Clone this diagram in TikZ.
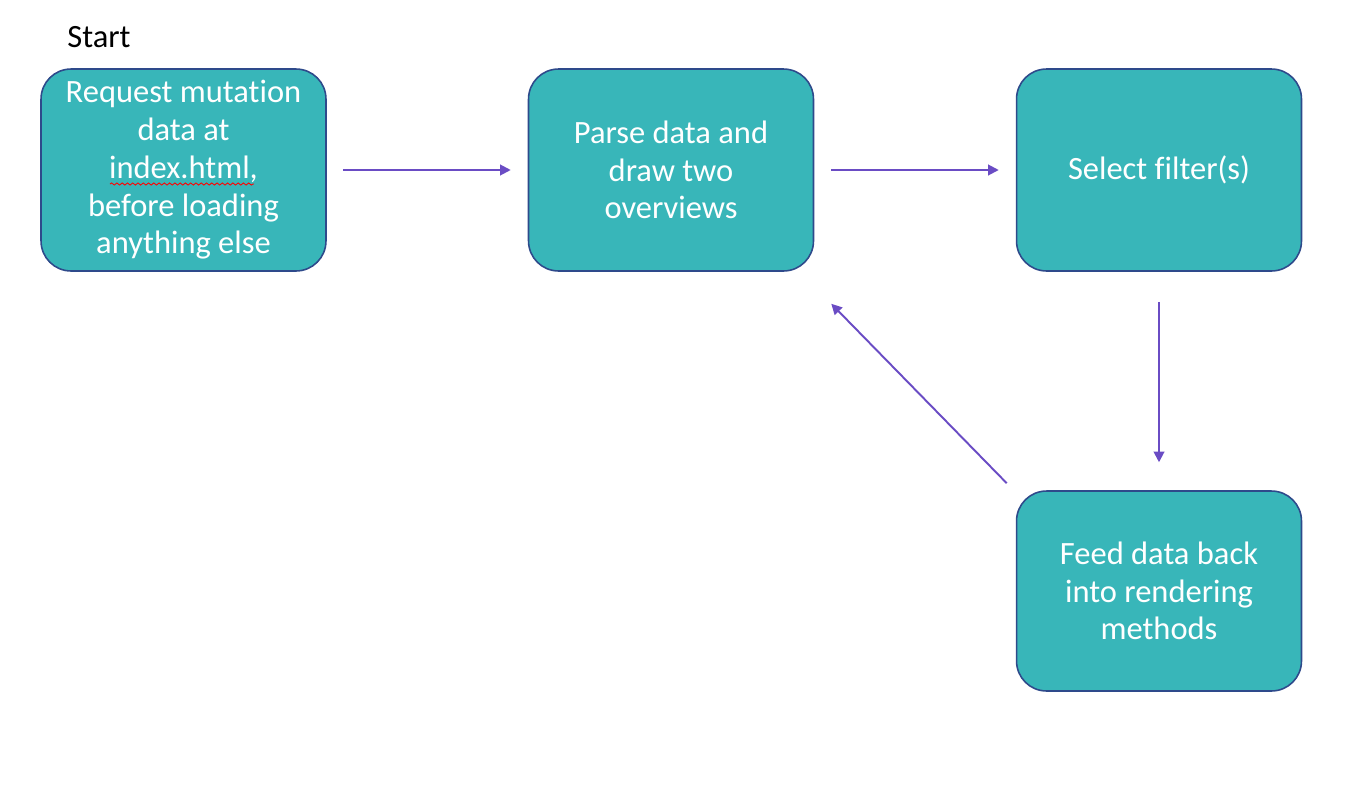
\documentclass[tikz,border=0pt]{standalone}
\usepackage{fontspec}
\setmainfont{Carlito}[Ligatures=NoCommon]
\usetikzlibrary{arrows.meta,calc,decorations.pathmorphing}
\definecolor{boxfill}{HTML}{38B6B9}
\definecolor{boxline}{HTML}{2E4A8B}
\definecolor{arrowc}{HTML}{6A4CC4}
\begin{document}
\begin{tikzpicture}[x=0.02cm,y=-0.02cm,
  stepbox/.style={draw=boxline, line width=0.9pt, fill=boxfill, rounded corners=0.6cm,
    minimum width=5.7cm, minimum height=4.04cm, text width=5.3cm, align=flush center,
    text=white, font=\fontsize{18.5}{21.5}\selectfont, inner sep=0pt},
  flow/.style={draw=arrowc, line width=1.1pt, -{Triangle[length=6pt,width=6pt]}},
  lbl/.style={font=\fontsize{18.5}{21.5}\selectfont, text=black, inner sep=0pt}]
\useasboundingbox (0,0) rectangle (1348,788);
\node[lbl, anchor=west] (start) at (67,37) {Start};
\node[stepbox] (b1) at (183.5,170) {Request mutation\\data at\\index.html,\\before loading\\anything else};
\node[stepbox] (b2) at (671,170) {Parse data and\\draw two\\overviews};
\node[stepbox] (b3) at (1159,170) {Select filter(s)};
\node[stepbox, minimum height=4.0cm] (b4) at (1159,591) {Feed data back\\into rendering\\methods};
\draw[red, line width=0.5pt, decorate, decoration={snake, amplitude=0.6pt, segment length=3pt}] (110,184) -- (254,184);
\draw[flow, shorten <=0.32cm, shorten >=0.34cm] (b1.east) -- (b2.west);
\draw[flow, shorten <=0.34cm, shorten >=0.34cm] (b2.east) -- (b3.west);
\draw[flow, shorten <=0.6cm, shorten >=0.56cm] (b3.south) -- (b4.north);
\coordinate (d1) at ($(b4.north west)+(-9,-7)$);
\coordinate (d2) at ($(b2.south east)+(17,32)$);
\draw[flow] (d1) -- (d2);
\end{tikzpicture}
\end{document}
